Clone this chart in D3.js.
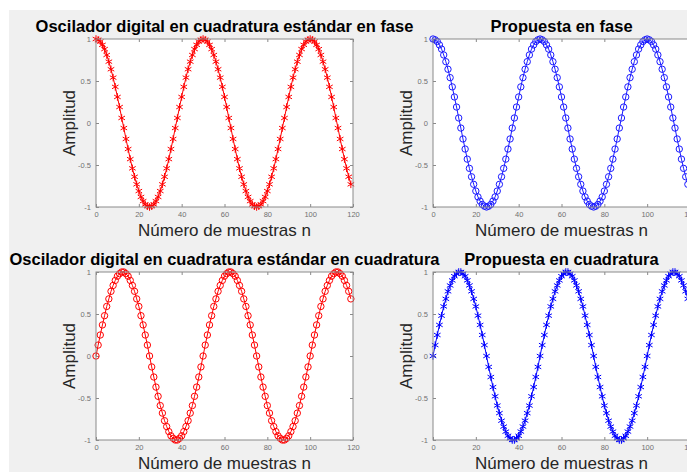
<!DOCTYPE html>
<html>
<head>
<meta charset="utf-8">
<script src="https://cdn.jsdelivr.net/npm/d3@7"></script>
<style>
body { margin: 0; background: #fff; }
text { font-family: "Liberation Sans", Arial, sans-serif; }
</style>
</head>
<body>
<svg id="fig" width="687" height="472"></svg>
<script>
// samples n = 0..119 (period of 50 samples)
var inPhase = [
  1, 0.99, 0.97, 0.93, 0.88, 0.81, 0.73, 0.64, 0.54, 0.43,
  0.31, 0.19, 0.06, -0.06, -0.19, -0.31, -0.43, -0.54, -0.64, -0.73,
  -0.81, -0.88, -0.93, -0.97, -0.99, -1, -0.99, -0.97, -0.93, -0.88,
  -0.81, -0.73, -0.64, -0.54, -0.43, -0.31, -0.19, -0.06, 0.06, 0.19,
  0.31, 0.43, 0.54, 0.64, 0.73, 0.81, 0.88, 0.93, 0.97, 0.99,
  1, 0.99, 0.97, 0.93, 0.88, 0.81, 0.73, 0.64, 0.54, 0.43,
  0.31, 0.19, 0.06, -0.06, -0.19, -0.31, -0.43, -0.54, -0.64, -0.73,
  -0.81, -0.88, -0.93, -0.97, -0.99, -1, -0.99, -0.97, -0.93, -0.88,
  -0.81, -0.73, -0.64, -0.54, -0.43, -0.31, -0.19, -0.06, 0.06, 0.19,
  0.31, 0.43, 0.54, 0.64, 0.73, 0.81, 0.88, 0.93, 0.97, 0.99,
  1, 0.99, 0.97, 0.93, 0.88, 0.81, 0.73, 0.64, 0.54, 0.43,
  0.31, 0.19, 0.06, -0.06, -0.19, -0.31, -0.43, -0.54, -0.64, -0.73
];
var quadrature = [
  0, 0.13, 0.25, 0.37, 0.48, 0.59, 0.68, 0.77, 0.84, 0.90,
  0.95, 0.98, 1, 1, 0.98, 0.95, 0.90, 0.84, 0.77, 0.68,
  0.59, 0.48, 0.37, 0.25, 0.13, 0, -0.13, -0.25, -0.37, -0.48,
  -0.59, -0.68, -0.77, -0.84, -0.90, -0.95, -0.98, -1, -1, -0.98,
  -0.95, -0.90, -0.84, -0.77, -0.68, -0.59, -0.48, -0.37, -0.25, -0.13,
  0, 0.13, 0.25, 0.37, 0.48, 0.59, 0.68, 0.77, 0.84, 0.90,
  0.95, 0.98, 1, 1, 0.98, 0.95, 0.90, 0.84, 0.77, 0.68,
  0.59, 0.48, 0.37, 0.25, 0.13, 0, -0.13, -0.25, -0.37, -0.48,
  -0.59, -0.68, -0.77, -0.84, -0.90, -0.95, -0.98, -1, -1, -0.98,
  -0.95, -0.90, -0.84, -0.77, -0.68, -0.59, -0.48, -0.37, -0.25, -0.13,
  0, 0.13, 0.25, 0.37, 0.48, 0.59, 0.68, 0.77, 0.84, 0.90,
  0.95, 0.98, 1, 1, 0.98, 0.95, 0.90, 0.84, 0.77, 0.68
];
var titles = [
  "Oscilador digital en cuadratura estándar en fase",
  "Propuesta en fase",
  "Oscilador digital en cuadratura estándar en cuadratura",
  "Propuesta en cuadratura"
];
var xTicks = [0, 20, 40, 60, 80, 100, 120];
var yTicks = [-1, -0.5, 0, 0.5, 1];
var xLabel = "Número de muestras n";
var yLabel = "Amplitud";

var svg = d3.select("#fig");

// figure background (grey, with a thin white margin top/left)
svg.append("rect").attr("x", 9).attr("y", 10)
  .attr("width", 687).attr("height", 472).attr("fill", "#f0f0f0");

var panels = [
  {title: titles[0], data: inPhase,    color: "#ff0000", marker: "star",   left: 96,  top: 39},
  {title: titles[1], data: inPhase,    color: "#1a1aff", marker: "circle", left: 433, top: 39},
  {title: titles[2], data: quadrature, color: "#ff0000", marker: "circle", left: 96,  top: 272},
  {title: titles[3], data: quadrature, color: "#0000ff", marker: "star",   left: 433, top: 272}
];
var pw = 257, ph = 168;

var star = d3.symbol().type(d3.symbolAsterisk).size(40);
var circ = d3.symbol().type(d3.symbolCircle).size(32);
var fmt = function(d) { return String(d); };

panels.forEach(function(p) {
  var g = svg.append("g").attr("transform", "translate(" + p.left + "," + p.top + ")");
  var x = d3.scaleLinear().domain([0, 120]).range([0, pw]);
  var y = d3.scaleLinear().domain([-1, 1]).range([ph, 0]);

  g.append("rect").attr("width", pw).attr("height", ph).attr("fill", "#fff");

  // ticks inside on all four sides
  var tickColor = "#8a8a8a";
  g.append("g").attr("transform", "translate(0," + ph + ")")
    .call(d3.axisBottom(x).tickValues(xTicks).tickFormat(fmt).tickSizeInner(-3).tickSizeOuter(0).tickPadding(5));
  g.append("g")
    .call(d3.axisTop(x).tickValues(xTicks).tickSizeInner(-3).tickSizeOuter(0).tickFormat(""));
  g.append("g")
    .call(d3.axisLeft(y).tickValues(yTicks).tickFormat(fmt).tickSizeInner(-3).tickSizeOuter(0).tickPadding(5));
  g.append("g").attr("transform", "translate(" + pw + ",0)")
    .call(d3.axisRight(y).tickValues(yTicks).tickSizeInner(-3).tickSizeOuter(0).tickFormat(""));
  g.selectAll(".domain").remove();
  g.selectAll(".tick line").attr("stroke", tickColor);
  g.selectAll(".tick text").attr("fill", "#707070").style("font-size", "7.5px")
    .style("font-family", "'Liberation Sans', Arial, sans-serif");

  var line = d3.line().x(function(d, i) { return x(i); }).y(function(d) { return y(d); });
  g.append("path").datum(p.data).attr("d", line)
    .attr("fill", "none").attr("stroke", p.color).attr("stroke-width", 1);

  g.selectAll(".mk").data(p.data).enter().append("path")
    .attr("class", "mk")
    .attr("transform", function(d, i) { return "translate(" + x(i) + "," + y(d) + ")"; })
    .attr("d", p.marker == "star" ? star : circ)
    .attr("fill", "none").attr("stroke", p.color).attr("stroke-width", 1);

  g.append("rect").attr("width", pw).attr("height", ph)
    .attr("fill", "none").attr("stroke", tickColor).attr("stroke-width", 1);

  g.append("text").attr("x", pw / 2).attr("y", -7)
    .attr("text-anchor", "middle").style("font-size", "16.5px").style("font-weight", "bold")
    .attr("fill", "#000").text(p.title);

  g.append("text").attr("x", pw / 2).attr("y", ph + 29)
    .attr("text-anchor", "middle").style("font-size", "17px")
    .attr("fill", "#262626").text(xLabel);

  g.append("text").attr("transform", "translate(-21," + (ph / 2) + ") rotate(-90)")
    .attr("text-anchor", "middle").style("font-size", "17px")
    .attr("fill", "#262626").text(yLabel);
});
</script>
</body>
</html>
